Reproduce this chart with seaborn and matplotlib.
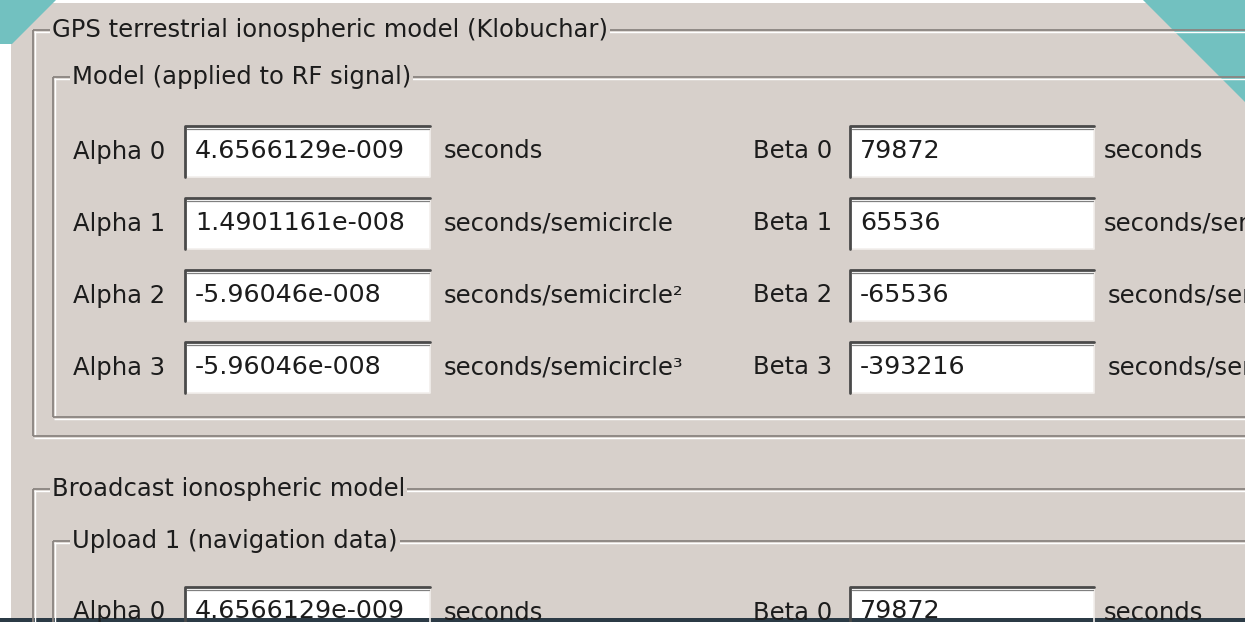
import matplotlib
matplotlib.use("Agg")
import matplotlib.pyplot as plt
import seaborn as sns
from matplotlib.patches import Rectangle, Polygon

# --- contents of the dialog -------------------------------------------------
GROUP_TITLES = [
    "GPS terrestrial ionospheric model (Klobuchar)",
    "Model (applied to RF signal)",
    "Broadcast ionospheric model",
    "Upload 1 (navigation data)",
]
ALPHA_LABELS = ["Alpha 0", "Alpha 1", "Alpha 2", "Alpha 3"]
ALPHA_VALUES = ["4.6566129e-009", "1.4901161e-008", "-5.96046e-008", "-5.96046e-008"]
ALPHA_UNITS = ["seconds", "seconds/semicircle", "seconds/semicircle²", "seconds/semicircle³"]
BETA_LABELS = ["Beta 0", "Beta 1", "Beta 2", "Beta 3"]
BETA_VALUES = ["79872", "65536", "-65536", "-393216"]
BETA_UNITS = ["seconds", "seconds/semicircle", "seconds/semicircle²", "seconds/semicircle³"]

# --- look ------------------------------------------------------------------
W, H = 1245, 622
BG = "#d7d0cb"
TEAL = "#72c1c0"
DARK_BAR = "#2b3a45"
ETCH_DARK = "#8a8480"
ETCH_LIGHT = "#ffffff"
TXT = "#1c1c1c"
FS = 17.5       # labels, units, group titles
FS_VAL = 18.3   # values inside the edit boxes

sns.set_theme(style="white")
plt.rcParams["font.family"] = ["DejaVu Sans"]

fig = plt.figure(figsize=(W / 100, H / 100), dpi=100)
ax = fig.add_axes([0, 0, 1, 1])
ax.set_xlim(0, W)
ax.set_ylim(H, 0)
ax.axis("off")
fig.patch.set_facecolor("white")

ax.add_patch(Rectangle((11, 3), W, H, facecolor=BG, edgecolor="none"))


def hline(x0, x1, y):
    ax.plot([x0, x1], [y, y], color=ETCH_DARK, lw=1.3, solid_capstyle="butt")
    ax.plot([x0 + 1, x1], [y + 1.5, y + 1.5], color=ETCH_LIGHT, lw=1.0, solid_capstyle="butt")


def vline(x, y0, y1):
    ax.plot([x, x], [y0, y1], color=ETCH_DARK, lw=1.3, solid_capstyle="butt")
    ax.plot([x + 1.5, x + 1.5], [y0 + 1, y1], color=ETCH_LIGHT, lw=1.0, solid_capstyle="butt")


def group_box(left, top, bottom, title):
    right = W + 20
    hline(left, right, top)
    vline(left, top, bottom)
    if bottom < H:
        hline(left, right, bottom)
    ax.text(left + 19, top, title, fontsize=FS, color=TXT, va="center", ha="left",
            bbox=dict(facecolor=BG, edgecolor="none", pad=1.5))


def text_box(x, y, w, h, value):
    ax.add_patch(Rectangle((x, y), w, h, facecolor="white", edgecolor="none"))
    ax.plot([x + w, x + w, x], [y, y + h, y + h], color="#f2efec", lw=1.2)
    ax.plot([x, x, x + w], [y + h, y, y], color="#4a4a4a", lw=2.0)
    ax.plot([x + 1.5, x + w - 1], [y + 2.5, y + 2.5], color="#808080", lw=0.9)
    ax.text(x + 10, y + h / 2 - 1, value, fontsize=FS_VAL, color=TXT, va="center", ha="left")


def param_rows(top, n):
    pitch, bh = 72, 51
    for i in range(n):
        y = top + i * pitch
        cy = y + bh / 2
        ax.text(73, cy, ALPHA_LABELS[i], fontsize=FS, color=TXT, va="center")
        text_box(185, y, 245, bh, ALPHA_VALUES[i])
        ax.text(444, cy, ALPHA_UNITS[i], fontsize=FS, color=TXT, va="center")
        ax.text(753, cy, BETA_LABELS[i], fontsize=FS, color=TXT, va="center")
        text_box(850, y, 244, bh, BETA_VALUES[i])
        ax.text(1104 + (4 if i >= 2 else 0), cy, BETA_UNITS[i], fontsize=FS,
                color=TXT, va="center")


# terrestrial model
group_box(33, 30, 436, GROUP_TITLES[0])
group_box(53, 77, 417, GROUP_TITLES[1])
param_rows(126, len(ALPHA_LABELS))

# broadcast model (cut off at the bottom)
group_box(33, 489, H + 40, GROUP_TITLES[2])
group_box(53, 541, H + 40, GROUP_TITLES[3])
param_rows(587, 1)

# slide decorations
ax.add_patch(Polygon([(0, 0), (56, 0), (12, 44), (0, 44)], closed=True,
                     facecolor=TEAL, edgecolor="none"))
ax.add_patch(Polygon([(1143, 0), (W, 0), (W, 102)], closed=True,
                     facecolor=TEAL, edgecolor="none"))
ax.add_patch(Rectangle((0, 618), W, 10, facecolor=DARK_BAR, edgecolor="none"))

fig.savefig("out.png", dpi=100, facecolor=fig.get_facecolor())
